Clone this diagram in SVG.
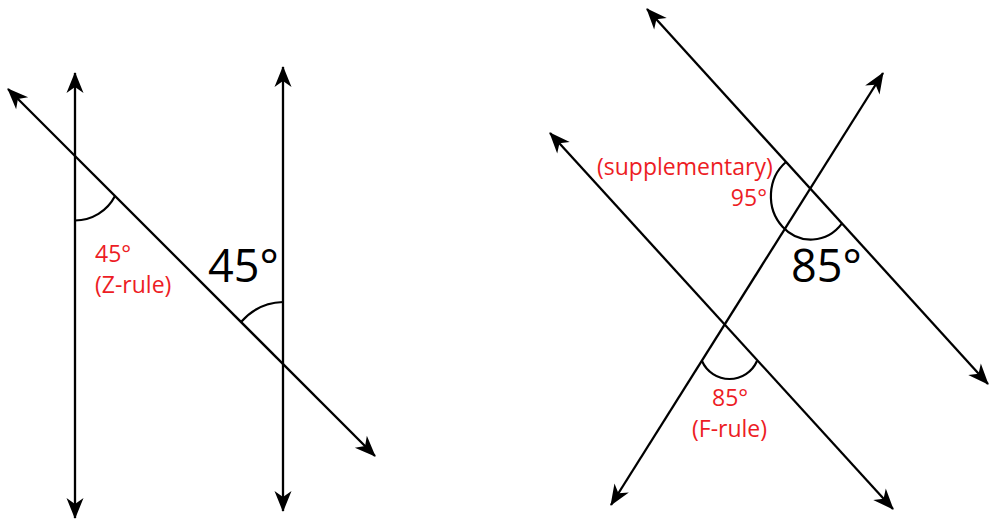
<svg xmlns="http://www.w3.org/2000/svg" width="990" height="519" viewBox="0 0 990 519">
<defs>
<marker id="ah" viewBox="-24 -12 26 24" refX="0" refY="0" markerWidth="26" markerHeight="24" markerUnits="userSpaceOnUse" orient="auto-start-reverse">
<path d="M1,0 L-20,-8.5 L-14,0 L-20,8.5 Z" fill="#000"/>
</marker>
<style>
.ln{stroke:#000;stroke-width:2.3;fill:none;marker-start:url(#ah);marker-end:url(#ah)}
.arc{stroke:#000;stroke-width:2.2;fill:none}
.big{font-family:"Open Sans","Liberation Sans",sans-serif;font-size:45px;fill:#000}
.red{font-family:"Open Sans","Liberation Sans",sans-serif;font-size:23px;fill:#ed1c24}
</style>
</defs>
<rect width="990" height="519" fill="#fff"/>
<g id="left-figure">
<g id="left-lines">
<line class="ln" x1="75" y1="73" x2="75" y2="518"/>
<line class="ln" x1="283" y1="67" x2="283" y2="511"/>
<line class="ln" x1="8" y1="89" x2="375" y2="456"/>
</g>
<g id="left-angles">
<path class="arc" d="M75,220.5 A45,45 0 0 0 115,196"/>
<path class="arc" d="M283,302 A58,58 0 0 0 241,322"/>
</g>
<g id="left-labels">
<text class="big" x="208" y="282">45°</text>
<text class="red" x="95" y="262">45°</text>
<text class="red" x="95" y="293">(Z-rule)</text>
</g>
</g>
<g id="right-figure">
<g id="right-lines">
<line class="ln" x1="647" y1="9" x2="988" y2="384"/>
<line class="ln" x1="550" y1="133" x2="893" y2="509"/>
<line class="ln" x1="883" y1="73" x2="611" y2="505"/>
</g>
<g id="right-angles">
<path class="arc" d="M786,162 A40,43.5 0 1 0 842,223.4"/>
<path class="arc" d="M702,361 A30,30 0 0 0 757,361"/>
</g>
<g id="right-labels">
<text class="red" x="597" y="175">(supplementary)</text>
<text class="red" x="767" y="206" text-anchor="end">95°</text>
<text class="big" x="791" y="282">85°</text>
<text class="red" x="712" y="406">85°</text>
<text class="red" x="692" y="437">(F-rule)</text>
</g>
</g>
</svg>
